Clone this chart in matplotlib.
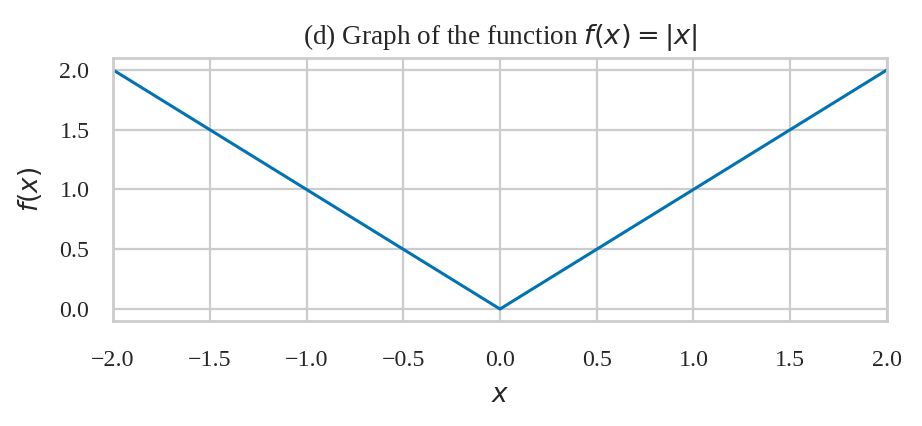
import matplotlib
matplotlib.use("Agg")
import matplotlib.pyplot as plt
import seaborn as sns

# points of f(x) = |x| on [-2, 2]
x_pts = [-2.0, 0.0, 2.0]
y_pts = [2.0, 0.0, 2.0]
x_ticks = [-2.0, -1.5, -1.0, -0.5, 0.0, 0.5, 1.0, 1.5, 2.0]
y_ticks = [0.0, 0.5, 1.0, 1.5, 2.0]

sns.set_style("whitegrid")
plt.rcParams['font.family'] = ['Liberation Serif', 'DejaVu Serif']
plt.rcParams['mathtext.fontset'] = 'dejavusans'
plt.rcParams['axes.unicode_minus'] = True

fig = plt.figure(figsize=(4.61, 2.13), dpi=200)
ax = fig.add_axes([0.1226, 0.2465, 0.8394, 0.6175])

ax.plot(x_pts, y_pts, color="#0173b2", linewidth=1.1)
ax.set_xlim(-2, 2)
ax.set_ylim(-0.1, 2.1)
ax.set_xticks(x_ticks)
ax.set_yticks(y_ticks)
ax.set_xticklabels(["\u2212%.1f" % -t if t < 0 else "%.1f" % t for t in x_ticks])
ax.tick_params(labelsize=8.6, colors="#262626")
ax.tick_params(axis="x", pad=7)
ax.tick_params(axis="y", pad=5)
for s in ax.spines.values():
    s.set_color("#cccccc")
    s.set_linewidth(1.0)
ax.grid(color="#cccccc", linewidth=0.8)

ax.set_xlabel("$x$", fontsize=9.5, labelpad=5)
ax.set_ylabel("$f(x)$", fontsize=9.5, labelpad=5.5)
ax.set_title("(d) Graph of the function $f(x) = |x|$", fontsize=9.8, pad=5)

fig.savefig("out.png", dpi=200)
